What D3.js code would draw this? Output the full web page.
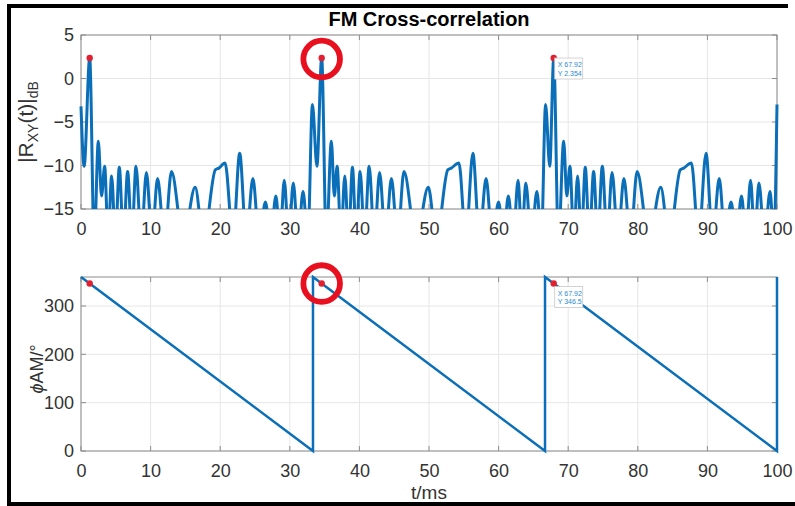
<!DOCTYPE html>
<html>
<head>
<meta charset="utf-8">
<script src="https://cdn.jsdelivr.net/npm/d3@7"></script>
<style>
body { margin: 0; background: #fff; }
text { font-family: "Liberation Sans", Arial, Helvetica, sans-serif; }
</style>
</head>
<body>
<script>
// tick labels
var timeTicks = [0, 10, 20, 30, 40, 50, 60, 70, 80, 90, 100];
var dbTicks = [-15, -10, -5, 0, 5];
var phaseTicks = [0, 100, 200, 300];

// |Rxy(t)| in dB: lobe peaks and the nulls between them
var corrPoints = [
  [0, -3.2], [0.45, -10.1], [1.25, 2.35], [1.9, -19], [2.49, -7.2], [2.95, -13.5], [3.4, -10.1],
  [3.9, -18.5], [4.4, -11.2], [4.95, -18.5], [5.5, -10.2], [6.1, -18.5], [6.7, -10.7], [7.3, -18.5],
  [7.9, -10.1], [8.65, -18.5], [9.4, -10.8], [10.2, -18.5], [11.0, -11.5], [12.0, -18.5], [13.0, -10.7],
  [14.7, -18.5], [16.4, -12.5], [17.6, -18.5], [19.3, -10.5], [19.8, -10.3], [20.7, -9.7], [21.85, -18.5],
  [22.8, -8.6], [23.75, -18.5], [24.7, -11.5], [25.6, -18.5], [26.5, -14.2], [27.25, -18.5], [28.0, -13.5],
  [28.6, -18.5], [29.2, -11.7], [29.85, -18.5], [30.5, -12.0], [31.2, -18.5], [31.9, -13.0], [32.6, -18.5],
  [33.25, -3.0], [33.9, -10.1], [34.58, 2.35], [35.25, -19], [35.97, -7.2], [36.4, -13.5],
  [36.8, -10.1], [37.35, -18.5], [37.9, -11.2], [38.45, -18.5], [39.0, -10.2], [39.55, -18.5],
  [40.1, -10.7], [40.75, -18.5], [41.4, -10.1], [42.15, -18.5], [42.9, -10.8], [43.75, -18.5],
  [44.6, -11.5], [45.5, -18.5], [46.4, -10.7], [48.15, -18.5], [49.9, -12.5], [51.05, -18.5],
  [52.7, -10.5], [53.2, -10.3], [54.3, -9.7], [55.3, -18.5], [56.3, -8.6], [57.25, -18.5],
  [58.2, -11.5], [59.1, -18.5], [60.0, -14.2], [60.7, -18.5], [61.4, -13.5], [62.1, -18.5],
  [62.8, -11.7], [63.35, -18.5], [63.9, -12.0], [64.7, -18.5], [65.5, -13.0], [66.15, -18.5],
  [66.75, -3.0], [67.35, -10.1], [67.92, 2.35], [68.6, -19], [69.35, -7.2], [69.8, -13.5],
  [70.25, -10.1], [70.8, -18.5], [71.35, -11.2], [71.9, -18.5], [72.45, -10.2], [73.05, -18.5],
  [73.65, -10.7], [74.25, -18.5], [74.9, -10.1], [75.6, -18.5], [76.3, -10.8], [77.15, -18.5],
  [78.0, -11.5], [78.95, -18.5], [79.9, -10.7], [81.6, -18.5], [83.3, -12.5], [84.5, -18.5],
  [86.1, -10.5], [86.6, -10.3], [87.7, -9.7], [88.75, -18.5], [89.8, -8.6], [90.75, -18.5],
  [91.7, -11.5], [92.55, -18.5], [93.4, -14.2], [94.15, -18.5], [94.9, -13.5], [95.55, -18.5],
  [96.2, -11.7], [96.8, -18.5], [97.4, -12.0], [98.2, -18.5], [99.0, -13.0], [99.55, -18.5],
  [100, -3.0]
];

// phase of AM in degrees (sawtooth)
var phaseT = [0, 33.33, 33.33, 66.67, 66.67, 100, 100];
var phaseDeg = [360, 0, 360, 0, 360, 0, 360];

// data tips
var tipT = [1.25, 34.58, 67.92];
var tipDb = 2.354;
var tipDeg = 346.5;
var circledT = 34.58;

var W = 795, H = 506;
var svg = d3.select('body').append('svg')
  .attr('width', W)
  .attr('height', H);

var blue = '#0a6fb8';
var left = 81, right = 777;
var top1 = 35, bot1 = 209;
var top2 = 277, bot2 = 451;

var x = d3.scaleLinear().domain([0, 100]).range([left, right]);
var yDb = d3.scaleLinear().domain([-15, 5]).range([bot1, top1]);
var yPh = d3.scaleLinear().domain([0, 360]).range([bot2, top2]);

function drawFrame(y, yTicks, t, b) {
  var g = svg.append('g');
  // grid
  g.selectAll('.gx').data(timeTicks).enter().append('line')
    .attr('x1', function(d) { return x(d); })
    .attr('x2', function(d) { return x(d); })
    .attr('y1', t).attr('y2', b)
    .attr('stroke', '#e6e6e6').attr('stroke-width', 1);
  g.selectAll('.gy').data(yTicks).enter().append('line')
    .attr('y1', function(d) { return y(d); })
    .attr('y2', function(d) { return y(d); })
    .attr('x1', left).attr('x2', right)
    .attr('stroke', '#e6e6e6').attr('stroke-width', 1);
  // box
  g.append('rect')
    .attr('x', left).attr('y', t)
    .attr('width', right - left).attr('height', b - t)
    .attr('fill', 'none').attr('stroke', '#8c8c8c').attr('stroke-width', 1);
  // inward ticks
  timeTicks.forEach(function(d) {
    g.append('line').attr('x1', x(d)).attr('x2', x(d)).attr('y1', b).attr('y2', b - 5).attr('stroke', '#8c8c8c');
    g.append('line').attr('x1', x(d)).attr('x2', x(d)).attr('y1', t).attr('y2', t + 5).attr('stroke', '#8c8c8c');
  });
  yTicks.forEach(function(d) {
    g.append('line').attr('x1', left).attr('x2', left + 5).attr('y1', y(d)).attr('y2', y(d)).attr('stroke', '#8c8c8c');
    g.append('line').attr('x1', right).attr('x2', right - 5).attr('y1', y(d)).attr('y2', y(d)).attr('stroke', '#8c8c8c');
  });
  // tick labels
  var ax = g.append('g').attr('transform', 'translate(0,' + b + ')')
    .call(d3.axisBottom(x).tickValues(timeTicks).tickSize(0).tickPadding(13).tickFormat(d3.format('d')));
  var ay = g.append('g').attr('transform', 'translate(' + left + ',0)')
    .call(d3.axisLeft(y).tickValues(yTicks).tickSize(0).tickPadding(7).tickFormat(d3.format('d')));
  [ax, ay].forEach(function(a) {
    a.select('.domain').remove();
    a.selectAll('text').attr('font-size', 18).attr('fill', '#333')
      .style('font-family', '"Liberation Sans", Arial, sans-serif');
  });
}

drawFrame(yDb, dbTicks, top1, bot1);
drawFrame(yPh, phaseTicks, top2, bot2);

// clip for the dB curve
svg.append('clipPath').attr('id', 'clipTop')
  .append('rect').attr('x', left - 3).attr('y', top1).attr('width', right - left + 6).attr('height', bot1 - top1);

var corrLine = d3.line()
  .x(function(d) { return x(d[0]); })
  .y(function(d) { return yDb(d[1]); })
  .curve(d3.curveMonotoneX);

svg.append('path')
  .datum(corrPoints)
  .attr('clip-path', 'url(#clipTop)')
  .attr('d', corrLine)
  .attr('fill', 'none')
  .attr('stroke', blue)
  .attr('stroke-width', 3)
  .attr('stroke-linejoin', 'round');

var phaseLine = d3.line()
  .x(function(d, i) { return x(phaseT[i]); })
  .y(function(d) { return yPh(d); });

svg.append('path')
  .datum(phaseDeg)
  .attr('d', phaseLine)
  .attr('fill', 'none')
  .attr('stroke', blue)
  .attr('stroke-width', 2.5);

// data tip markers
svg.selectAll('.tipTop').data(tipT).enter().append('circle')
  .attr('cx', function(d) { return x(d); })
  .attr('cy', yDb(tipDb))
  .attr('r', 3.2)
  .attr('fill', '#e3202f');
svg.selectAll('.tipBot').data(tipT).enter().append('circle')
  .attr('cx', function(d) { return x(d); })
  .attr('cy', yPh(tipDeg))
  .attr('r', 3.2)
  .attr('fill', '#e3202f');

// data tip boxes
function tipBox(px, py, dy, lines) {
  var g = svg.append('g').attr('transform', 'translate(' + (px + 1) + ',' + (py + dy) + ')');
  g.append('rect').attr('width', 28).attr('height', 21)
    .attr('fill', '#fff').attr('stroke', '#c8c8c8').attr('stroke-width', 0.8);
  lines.forEach(function(s, i) {
    g.append('text').attr('x', 3).attr('y', 9 + i * 8.5)
      .attr('font-size', 7).attr('fill', '#2a8ad0').text(s);
  });
}
tipBox(x(tipT[2]), yDb(tipDb), 0, ['X 67.92', 'Y 2.354']);
tipBox(x(tipT[2]), yPh(tipDeg), 3, ['X 67.92', 'Y 346.5']);

// red highlight circles
[[yDb(tipDb) + 1], [yPh(tipDeg)]].forEach(function(c) {
  svg.append('circle')
    .attr('cx', x(circledT)).attr('cy', c[0])
    .attr('r', 18.3)
    .attr('fill', 'none')
    .attr('stroke', '#e8101e')
    .attr('stroke-width', 5.8);
});

// title and labels
svg.append('text')
  .attr('x', (left + right) / 2).attr('y', 26)
  .attr('text-anchor', 'middle')
  .attr('font-size', 20).attr('font-weight', 'bold').attr('fill', '#000')
  .text('FM Cross-correlation');

var yl1 = svg.append('text')
  .attr('transform', 'translate(33,' + ((top1 + bot1) / 2) + ') rotate(-90)')
  .attr('text-anchor', 'middle')
  .attr('font-size', 21).attr('fill', '#333');
yl1.append('tspan').text('|R');
yl1.append('tspan').attr('dy', 5).attr('font-size', 14).text('XY');
yl1.append('tspan').attr('dy', -5).text('(t)|');
yl1.append('tspan').attr('dy', 5).attr('font-size', 14).text('dB');

var yl2 = svg.append('text')
  .attr('transform', 'translate(43,' + ((top2 + bot2) / 2 + 5) + ') rotate(-90)')
  .attr('text-anchor', 'middle')
  .attr('font-size', 18).attr('fill', '#333');
yl2.append('tspan').attr('font-style', 'italic').text('\u03D5');
yl2.append('tspan').text('AM/\u00B0');

svg.append('text')
  .attr('x', (left + right) / 2).attr('y', 499)
  .attr('text-anchor', 'middle')
  .attr('font-size', 19).attr('fill', '#333')
  .text('t/ms');

// black photo frame
svg.append('rect').attr('x', 7).attr('y', 4).attr('width', 781).attr('height', 4).attr('fill', '#000');
svg.append('rect').attr('x', 7).attr('y', 4).attr('width', 4).attr('height', 502).attr('fill', '#000');
svg.append('rect').attr('x', 7).attr('y', 502).attr('width', 788).attr('height', 4).attr('fill', '#000');
</script>
</body>
</html>
